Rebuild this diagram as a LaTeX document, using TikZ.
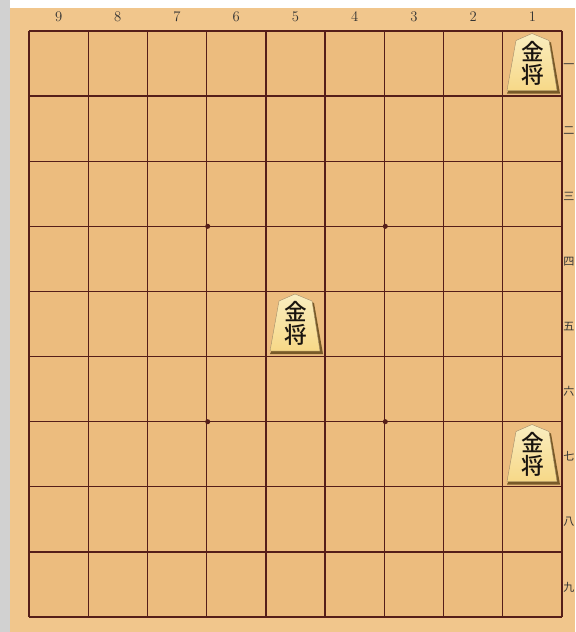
\documentclass[tikz,border=0pt]{standalone}
\usepackage{fontspec}
\newfontfamily\jp{Noto Sans CJK JP}
\newfontfamily\jpb{Noto Sans CJK JP Medium}
\definecolor{boardc}{RGB}{236,188,126}
\definecolor{framec}{RGB}{241,198,140}
\definecolor{linec}{RGB}{85,30,25}
\definecolor{piecec}{RGB}{246,226,150}
\definecolor{piecedark}{RGB}{120,90,40}
\definecolor{inkc}{RGB}{25,20,15}
\tikzset{
  gridline/.style={draw=linec, line width=1pt},
  collabel/.style={font=\rmfamily\fontsize{11}{11}\selectfont, text=black!80},
  rowlabel/.style={font=\jp\fontsize{8.3}{8.3}\selectfont, text=black!80, inner sep=0pt},
  starpt/.style={circle, fill=linec, inner sep=0pt, minimum size=3.8pt},
  kanji/.style={font=\jpb\fontsize{17}{17}\selectfont, text=inkc, inner sep=0pt},
}
\newcommand{\shogipiece}[3]{%
  \begin{scope}[shift={(#1,#2)}]
    \fill[piecedark] (0,-28) -- (18,-21) -- (27,30) -- (-26,30) -- cycle;
    \shade[top color=piecec!60!white, bottom color=piecec!90!orange, draw=piecedark!70, line width=0.3pt]
      (-1,-30) -- (-17,-23) -- (-26,27) -- (24,27) -- (16,-23) -- cycle;
    \node[kanji] (#3a) at (0,-12) {金};
    \node[kanji] (#3b) at (0,11) {将};
  \end{scope}}
\begin{document}
\begin{tikzpicture}[x=0.75pt, y=-0.75pt]
\path[use as bounding box] (0,0) rectangle (575,632);
\clip (0,0) rectangle (575,632);
\fill[white] (0,0) rectangle (575,632);
\fill[black!18] (0,0) rectangle (10,632);
\fill[framec] (10,8) rectangle (575,632);
\fill[boardc] (29,31) rectangle (562,617);
% grid
\foreach \i in {0,...,9} {
  \draw[gridline] ({29+\i*59.22},31) -- ({29+\i*59.22},617);
  \draw[gridline] (29,{31+\i*65.11}) -- (562,{31+\i*65.11});
}
% star points
\foreach \x/\y [count=\k] in {207.7/226.3, 385.3/226.3, 207.7/421.7, 385.3/421.7}
  \node[starpt] (star\k) at (\x,\y) {};
% column labels
\foreach \n [count=\k from 0] in {9,8,7,6,5,4,3,2,1}
  \node[collabel] (col\n) at ({58.6+\k*59.22},17) {\n};
% row labels
\foreach \r [count=\k from 0] in {一,二,三,四,五,六,七,八,九}
  \node[rowlabel] (row\k) at (568.8,{66+\k*65.11}) {\r};
% pieces
\shogipiece{533}{63.5}{pa}
\shogipiece{296}{324}{pb}
\shogipiece{533}{454.5}{pc}
\end{tikzpicture}
\end{document}
